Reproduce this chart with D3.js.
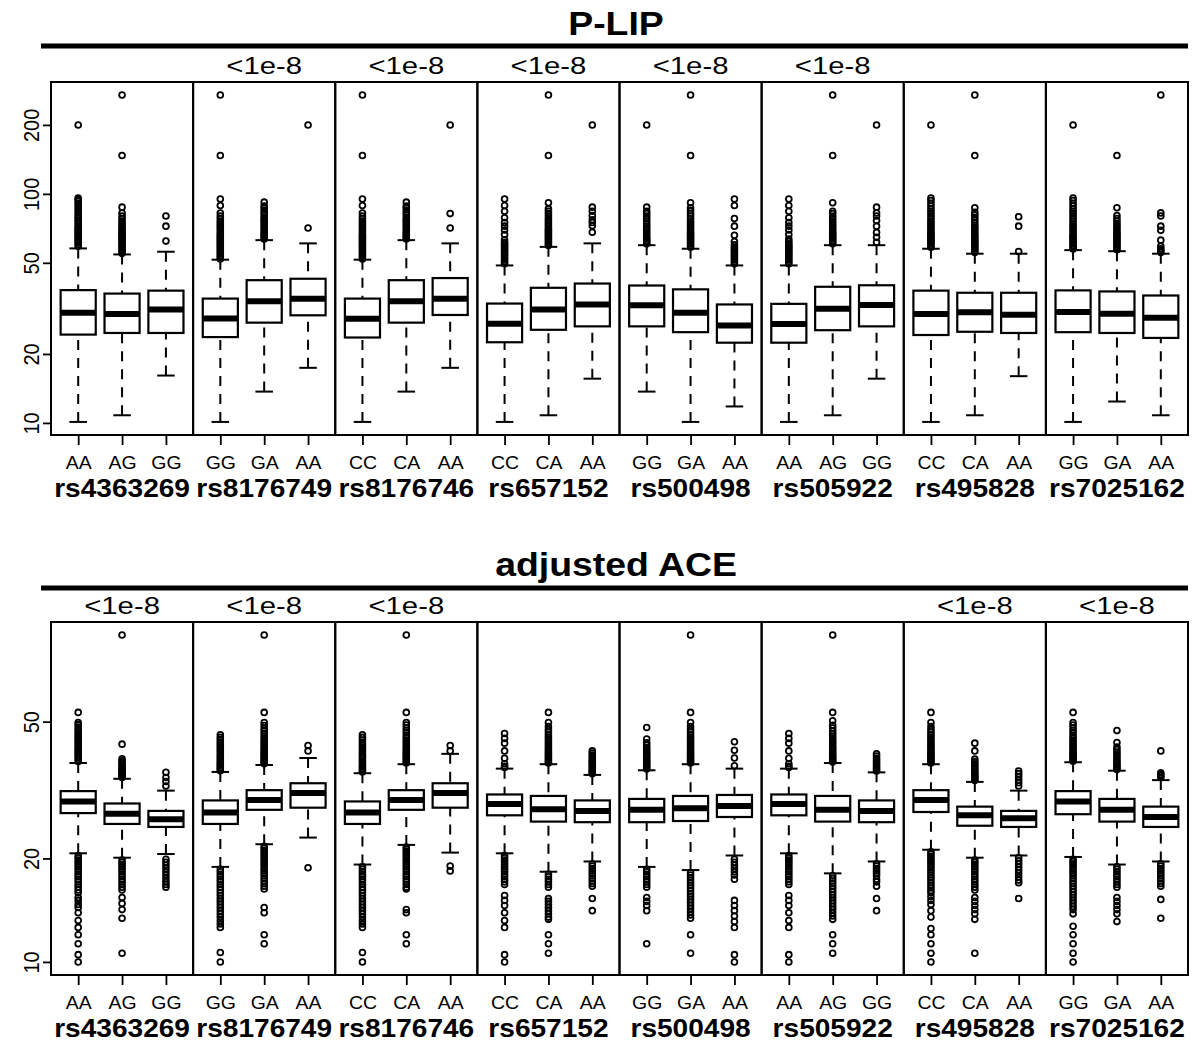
<!DOCTYPE html>
<html>
<head>
<meta charset="utf-8">
<script src="https://cdn.jsdelivr.net/npm/d3@7"></script>
<style>
  body { margin: 0; background: #fff; }
</style>
</head>
<body>
<svg id="chart" width="1192" height="1048"></svg>
<script>
// ---- SNPs and genotype categories ----
const snps = ["rs4363269", "rs8176749", "rs8176746", "rs657152", "rs500498", "rs505922", "rs495828", "rs7025162"];
const genotypes = [
  ["AA", "AG", "GG"], ["GG", "GA", "AA"], ["CC", "CA", "AA"], ["CC", "CA", "AA"],
  ["GG", "GA", "AA"], ["AA", "AG", "GG"], ["CC", "CA", "AA"], ["GG", "GA", "AA"]
];

// ---- association p-values shown above each SNP ----
const plipPvals = ["", "<1e-8", "<1e-8", "<1e-8", "<1e-8", "<1e-8", "", ""];
const acePvals  = ["<1e-8", "<1e-8", "<1e-8", "", "", "", "<1e-8", "<1e-8"];

// ---- axis tick values (log scale) ----
const plipTicks = [10, 20, 50, 100, 200];
const aceTicks  = [10, 20, 50];

// ---- P-LIP box statistics: [lower whisker, Q1, median, Q3, upper whisker] ----
const plipStats = [
  [[10.1, 24.3, 30.3, 38.0, 57.8], [10.8, 24.7, 29.9, 36.7, 54.4], [16.1, 24.7, 31.3, 37.8, 55.9]],
  [[10.1, 23.7, 28.6, 34.9, 51.6], [13.7, 27.4, 34.0, 42.0, 62.8], [17.4, 29.5, 34.8, 42.6, 60.8]],
  [[10.1, 23.6, 28.5, 34.9, 51.6], [13.7, 27.4, 34.0, 42.0, 62.8], [17.4, 29.6, 34.8, 42.9, 60.8]],
  [[10.1, 22.5, 27.1, 33.2, 48.7], [10.8, 25.5, 31.3, 38.9, 58.7], [15.6, 26.4, 32.9, 40.6, 60.8]],
  [[13.7, 26.4, 32.6, 39.8, 59.7], [10.1, 24.9, 30.3, 38.3, 57.6], [11.8, 22.4, 26.6, 32.9, 48.7]],
  [[10.1, 22.4, 27.0, 33.1, 48.7], [10.8, 25.4, 31.5, 39.3, 59.7], [15.6, 26.4, 32.7, 39.9, 59.7]],
  [[10.1, 24.2, 29.9, 37.8, 57.6], [10.8, 25.0, 30.4, 37.0, 54.8], [16.0, 24.7, 29.7, 37.0, 54.8]],
  [[10.1, 24.9, 30.5, 37.9, 56.8], [12.4, 24.7, 30.0, 37.5, 56.2], [10.8, 23.5, 28.8, 36.0, 54.8]]
];

// ---- P-LIP outlying observations ----
const plipOutliers = [
  [
    [59, 60, 61, 62, 63, 64, 65, 66, 67, 68, 69, 70, 71, 72, 73.5, 75, 76.5, 78, 79.5, 81, 83, 85, 87, 89, 91, 93, 94.5, 96, 200],
    [55, 56, 57, 58, 59, 60, 61, 62, 63, 64, 65, 66, 67, 68, 69, 70, 71.5, 73, 74.5, 76, 78, 80, 82.5, 87.5, 147, 270],
    [62.2, 72.3, 80]
  ],
  [
    [52, 53, 54, 55, 56, 57, 58, 59, 60, 61, 62, 63, 64, 65, 66, 67, 68.5, 70, 71.5, 73, 74.5, 76, 78, 80, 82.5, 89, 95, 147, 270],
    [63.5, 64.5, 65.5, 66.5, 67.5, 68.5, 70, 71.5, 73, 74.5, 76, 77.5, 79, 81, 83, 85, 87, 88.5, 92],
    [71, 200]
  ],
  [
    [52, 53, 54, 55, 56, 57, 58, 59, 60, 61, 62, 63, 64, 65, 66, 67, 68.5, 70, 71.5, 73, 74.5, 76, 78, 80, 82.5, 89, 95, 147, 270],
    [63.5, 64.5, 65.5, 66.5, 67.5, 68.5, 70, 71.5, 73, 74.5, 76, 77.5, 79, 81, 83, 85, 87, 88.5, 92],
    [71, 82, 200]
  ],
  [
    [49.5, 50.5, 51.5, 52.5, 53.5, 54.5, 55.5, 56.5, 57.5, 58.5, 59.5, 60.5, 61.5, 63, 66.5, 69.5, 72.3, 75, 78.7, 84, 89, 95],
    [59.5, 60.5, 61.5, 62.5, 63.5, 64.5, 65.5, 66.5, 67.5, 68.5, 69.5, 70.5, 72, 73.5, 75, 76.5, 78, 80, 82, 84, 86, 91.5, 147, 270],
    [68, 72.5, 75, 77, 80.5, 84, 87.5, 200]
  ],
  [
    [60.5, 61.5, 62.5, 63.5, 64.5, 66, 67.5, 69, 70.5, 72.3, 74, 76, 78, 80, 82, 84, 87.5, 200],
    [58.5, 59.5, 60.5, 61.5, 62.5, 63.5, 64.5, 65.5, 66.5, 67.5, 68.5, 70, 71.5, 73, 74.5, 76, 78, 80, 82, 84.5, 87, 91.5, 147, 270],
    [49.5, 50.5, 51.5, 52.5, 53.5, 54.5, 55.5, 56.5, 57.5, 58.5, 60, 62, 66, 72.3, 78, 89, 95]
  ],
  [
    [49.5, 50.5, 51.5, 52.5, 53.5, 54.5, 55.5, 56.5, 57.5, 58.5, 59.5, 60.5, 62, 63.5, 66.5, 69.5, 72.3, 75, 78.7, 84, 89, 95],
    [60.5, 61.5, 62.5, 63.5, 64.5, 65.5, 66.5, 67.5, 68.5, 70, 71.5, 73, 74.5, 76, 78, 80, 82, 84, 91.5, 147, 270],
    [61.5, 64.6, 67.9, 72.3, 76.5, 80, 82.6, 87.5, 200]
  ],
  [
    [58.5, 59.5, 60.5, 61.5, 62.5, 63.5, 64.5, 65.5, 66.5, 67.5, 68.5, 70, 71.5, 73, 74.5, 76, 78, 80, 82, 84, 86, 88.5, 91, 93.5, 96, 200],
    [55.5, 56.5, 57.5, 58.5, 59.5, 60.5, 61.5, 62.5, 63.5, 64.5, 65.5, 67, 68.5, 70, 71.5, 73, 75, 77, 79, 81, 83, 87, 147, 270],
    [56, 72.3, 79.4]
  ],
  [
    [57.5, 58.5, 59.5, 60.5, 61.5, 62.5, 63.5, 64.5, 65.5, 66.5, 68, 69.5, 71, 72.5, 74, 76, 78, 80, 82, 84, 86, 88.5, 91, 93.5, 96, 200],
    [57, 58, 59, 60, 61, 62, 63, 64, 65, 66, 67, 68, 69.5, 71, 72.5, 74, 76, 78, 80.5, 87, 147],
    [55.5, 56.5, 57.5, 59, 62.8, 69.3, 72.3, 80, 82.6, 270]
  ]
];

// ---- adjusted ACE box statistics: [lower whisker, Q1, median, Q3, upper whisker] ----
const aceStats = [
  [[20.7, 27.1, 29.3, 31.4, 37.9], [20.1, 25.2, 27.0, 28.9, 34.1], [20.6, 24.7, 26.0, 27.5, 31.5]],
  [[18.9, 25.2, 27.2, 29.5, 35.7], [22.0, 27.7, 29.6, 31.6, 37.4], [23.0, 28.1, 31.0, 33.1, 39.2]],
  [[19.2, 25.2, 27.2, 29.3, 35.4], [21.9, 27.7, 29.6, 31.6, 37.6], [20.8, 28.1, 31.0, 33.1, 40.3]],
  [[20.7, 26.7, 28.8, 30.7, 36.5], [18.3, 25.6, 27.8, 30.4, 37.6], [19.6, 25.5, 27.5, 29.5, 35.0]],
  [[18.9, 25.5, 27.7, 29.8, 36.1], [18.5, 25.7, 28.0, 30.4, 37.6], [20.4, 26.4, 28.4, 30.6, 36.5]],
  [[20.7, 26.7, 28.8, 30.7, 36.5], [18.1, 25.6, 27.7, 30.4, 37.9], [19.6, 25.5, 27.5, 29.5, 35.6]],
  [[21.2, 27.3, 29.6, 31.6, 37.6], [20.1, 24.9, 26.7, 28.3, 33.4], [20.4, 24.7, 26.2, 27.5, 31.5]],
  [[20.2, 26.9, 29.3, 31.4, 38.1], [19.2, 25.6, 27.7, 29.8, 36.0], [19.6, 24.7, 26.4, 28.3, 33.8]]
];

// ---- adjusted ACE outlying observations ----
const aceOutliers = [
  [
    [38.3, 38.8, 39.3, 39.8, 40.3, 40.8, 41.3, 41.8, 42.4, 43, 43.6, 44.2, 44.8, 45.4, 46, 46.7, 47.4, 48.2, 49, 49.7, 53.2,
     20.4, 20.1, 19.8, 19.5, 19.2, 18.9, 18.6, 18.3, 18.0, 17.7, 17.4, 17.1, 16.8, 16.5, 16.2, 15.9, 15.4, 15.1, 14.7, 14.4, 13.9, 13.2, 12.6, 12.0, 11.3, 10.5, 10.0],
    [34.4, 34.7, 35.0, 35.3, 35.6, 35.9, 36.2, 36.5, 36.8, 37.1, 37.5, 38.0, 38.5, 39.0, 43.0, 89.3,
     19.8, 19.5, 19.2, 18.9, 18.6, 18.3, 18.0, 17.7, 17.4, 17.1, 16.8, 16.5, 16.2, 15.4, 14.8, 14.2, 13.4, 10.6],
    [32.5, 33.5, 34.4, 35.6,
     19.9, 19.5, 19.1, 18.7, 18.3, 17.9, 17.5, 17.1, 16.8, 16.5]
  ],
  [
    [36.0, 36.4, 36.8, 37.2, 37.6, 38.0, 38.5, 39.0, 39.5, 40.0, 40.6, 41.2, 41.8, 42.4, 43.0, 43.6, 44.3, 45.0, 45.8,
     18.6, 18.3, 18.0, 17.7, 17.4, 17.1, 16.8, 16.5, 16.2, 15.9, 15.6, 15.3, 15.0, 14.7, 14.4, 14.1, 13.8, 13.5, 13.2, 12.9, 12.6, 10.65, 10.0],
    [37.7, 38.1, 38.5, 38.9, 39.3, 39.7, 40.1, 40.6, 41.1, 41.6, 42.2, 42.8, 43.4, 44.0, 44.7, 45.4, 46.2, 47.0, 47.8, 48.7, 49.7, 53.2, 89.3,
     21.7, 21.4, 21.1, 20.8, 20.5, 20.2, 19.9, 19.6, 19.3, 19.0, 18.7, 18.4, 18.1, 17.8, 17.5, 17.2, 16.9, 16.6, 16.3, 14.4, 13.9, 12.0, 11.3],
    [41.1, 42.6, 18.8]
  ],
  [
    [35.7, 36.1, 36.5, 36.9, 37.3, 37.8, 38.3, 38.8, 39.3, 39.8, 40.4, 41.0, 41.6, 42.2, 42.8, 43.5, 44.2, 45.0, 45.8,
     18.9, 18.6, 18.3, 18.0, 17.7, 17.4, 17.1, 16.8, 16.5, 16.2, 15.9, 15.6, 15.3, 15.0, 14.7, 14.4, 14.1, 13.8, 13.5, 13.2, 12.9, 12.6, 10.65, 10.0],
    [37.9, 38.3, 38.7, 39.1, 39.5, 39.9, 40.3, 40.8, 41.3, 41.8, 42.4, 43.0, 43.6, 44.2, 44.9, 45.6, 46.4, 47.2, 48.0, 48.9, 49.7, 53.2, 89.3,
     21.6, 21.3, 21.0, 20.7, 20.4, 20.1, 19.8, 19.5, 19.2, 18.9, 18.6, 18.3, 18.0, 17.7, 17.4, 17.1, 16.8, 16.5, 16.3, 14.2, 13.9, 12.0, 11.3],
    [41.1, 42.6, 19.0, 18.4]
  ],
  [
    [36.8, 37.1, 37.7, 39.1, 41.1, 43.3, 44.7, 46.2,
     20.4, 20.1, 19.8, 19.5, 19.2, 18.9, 18.6, 18.3, 18.0, 17.7, 17.4, 17.1, 16.8, 15.6, 15.1, 14.6, 13.9, 13.2, 12.6, 10.5, 10.0],
    [37.9, 38.3, 38.7, 39.1, 39.5, 39.9, 40.4, 40.9, 41.4, 41.9, 42.5, 43.1, 43.7, 44.4, 45.1, 45.8, 46.6, 47.4, 48.4, 49.7, 53.2,
     18.0, 17.7, 17.4, 17.1, 16.8, 16.5, 15.3, 15.0, 14.7, 14.4, 14.1, 13.8, 13.5, 13.3, 12.0, 11.3, 10.6],
    [35.3, 35.6, 35.9, 36.2, 36.6, 37.0, 37.4, 37.8, 38.2, 38.6, 39.0, 39.5, 40.0, 40.5, 41.1,
     19.3, 19.0, 18.7, 18.4, 18.1, 17.8, 17.5, 17.2, 16.9, 16.6, 15.3, 14.1]
  ],
  [
    [36.4, 36.8, 37.2, 37.6, 38.0, 38.4, 38.8, 39.3, 39.8, 40.3, 40.8, 41.4, 42.0, 42.7, 43.4, 44.5, 48.1,
     18.6, 18.3, 18.0, 17.7, 17.4, 17.1, 16.8, 16.5, 15.4, 15.0, 14.6, 14.1, 11.3],
    [37.9, 38.3, 38.7, 39.1, 39.5, 39.9, 40.4, 40.9, 41.4, 41.9, 42.5, 43.1, 43.7, 44.4, 45.1, 45.8, 46.6, 47.4, 48.4, 49.7, 53.2, 89.3,
     18.2, 17.9, 17.6, 17.3, 17.0, 16.7, 16.4, 16.1, 15.8, 15.5, 15.2, 14.9, 14.6, 14.3, 14.0, 13.7, 13.4, 12.0, 10.6],
    [37.2, 39.2, 41.3, 43.7,
     19.9, 19.5, 19.1, 18.7, 18.3, 17.9, 17.4, 15.1, 14.6, 14.1, 13.6, 13.1, 12.6, 10.5, 10.0]
  ],
  [
    [36.8, 37.1, 37.7, 39.1, 41.1, 43.3, 44.7, 46.2,
     20.4, 20.1, 19.8, 19.5, 19.2, 18.9, 18.6, 18.3, 18.0, 17.7, 17.4, 17.1, 16.8, 15.6, 15.1, 14.6, 13.9, 13.2, 12.6, 10.5, 10.0],
    [38.2, 38.6, 39.0, 39.4, 39.8, 40.2, 40.7, 41.2, 41.7, 42.2, 42.8, 43.4, 44.0, 44.7, 45.4, 46.2, 47.0, 47.9, 48.8, 50.3, 53.2, 89.3,
     17.8, 17.5, 17.2, 16.9, 16.6, 16.3, 16.0, 15.7, 15.4, 15.1, 14.8, 14.5, 14.2, 13.9, 13.6, 13.3, 12.0, 11.3, 10.6],
    [35.9, 36.3, 36.7, 37.1, 37.6, 38.1, 38.6, 39.1, 39.7, 40.3,
     19.3, 19.0, 18.7, 18.4, 18.1, 17.8, 17.4, 17.1, 16.6, 15.3, 14.1]
  ],
  [
    [37.9, 38.3, 38.7, 39.1, 39.5, 39.9, 40.4, 40.9, 41.4, 41.9, 42.5, 43.1, 43.7, 44.4, 45.1, 45.8, 46.6, 47.4, 48.4, 49.7, 53.2,
     20.9, 20.6, 20.3, 20.0, 19.7, 19.4, 19.1, 18.8, 18.5, 18.2, 17.9, 17.6, 17.3, 17.0, 16.7, 16.4, 16.1, 15.9, 15.5, 15.1, 14.7, 14.1, 13.5, 12.5, 12.0, 11.3, 10.6, 10.0],
    [33.7, 34.0, 34.3, 34.6, 35.0, 35.4, 35.8, 36.2, 36.7, 37.2, 37.7, 38.2, 38.9, 41.1, 43.3,
     19.8, 19.5, 19.2, 18.9, 18.6, 18.3, 18.0, 17.7, 17.4, 17.1, 16.8, 16.5, 16.2, 15.4, 15.0, 14.6, 14.2, 13.8, 13.3, 10.6],
    [32.5, 33.2, 33.9, 34.6, 35.3, 35.9,
     20.1, 19.7, 19.3, 18.9, 18.5, 18.1, 17.7, 17.3, 17.0, 15.3]
  ],
  [
    [38.4, 38.8, 39.2, 39.6, 40.0, 40.4, 40.9, 41.4, 41.9, 42.4, 43.0, 43.6, 44.2, 44.9, 45.6, 46.4, 47.2, 48.0, 48.9, 49.7, 53.2,
     19.9, 19.6, 19.3, 19.0, 18.7, 18.4, 18.1, 17.8, 17.5, 17.2, 16.9, 16.6, 16.3, 16.0, 15.7, 15.4, 15.1, 14.8, 14.5, 14.2, 13.8, 12.7, 12.0, 11.3, 10.6, 10.0],
    [36.3, 36.7, 37.1, 37.5, 38.0, 38.5, 39.0, 39.6, 40.2, 40.8, 41.5, 42.2, 43.5, 47.1,
     18.9, 18.6, 18.3, 18.0, 17.7, 17.4, 17.1, 16.8, 16.5, 15.4, 15.0, 14.6, 14.2, 13.8, 13.1],
    [34.4, 34.8, 35.1, 35.5, 41.1,
     19.3, 19.0, 18.7, 18.4, 18.1, 17.8, 17.5, 17.2, 16.9, 16.6, 15.2, 13.4]
  ]
];

// ---- drawing ----
const svg = d3.select("#chart");
const FONT = "'Liberation Sans', Arial, Helvetica, sans-serif";
const left = 51, right = 1188;
const nPanels = snps.length;
const pw = (right - left) / nPanels;

// centred text with a slight horizontal stretch
function label(g, x, y, txt, size, weight, sx) {
  return g.append("text")
    .attr("transform", `translate(${x},${y}) scale(${sx},1)`)
    .attr("text-anchor", "middle")
    .style("font-family", FONT)
    .style("font-size", size + "px")
    .style("font-weight", weight || "normal")
    .attr("fill", "#000")
    .text(txt);
}

function section(cfg) {
  const g = svg.append("g");

  label(g, 616, cfg.titleY, cfg.title, 34, "bold", 1.1);
  g.append("line")
    .attr("x1", 41).attr("x2", right)
    .attr("y1", cfg.ruleY).attr("y2", cfg.ruleY)
    .attr("stroke", "#000").attr("stroke-width", 5);

  // shared log scale, range padded by 4% like R's default
  const all = cfg.stats.flat(2).concat(cfg.outliers.flat(2));
  const [lo, hi] = d3.extent(all).map(Math.log10);
  const pad = (hi - lo) * 0.04;
  const y = d3.scaleLog()
    .domain([Math.pow(10, lo - pad), Math.pow(10, hi + pad)])
    .range([cfg.bottom, cfg.top]);

  // y axis
  const yAx = g.append("g")
    .attr("transform", `translate(${left},0)`)
    .call(d3.axisLeft(y).tickValues(cfg.ticks).tickSize(8).tickFormat(d3.format("d")));
  yAx.select(".domain").remove();
  yAx.selectAll(".tick line").attr("stroke", "#000").attr("stroke-width", 1.8);
  yAx.selectAll(".tick text")
    .attr("x", null).attr("dy", null)
    .attr("transform", `translate(-12,0) scale(1.1,1) rotate(-90)`)
    .attr("text-anchor", "middle")
    .attr("fill", "#000")
    .style("font-family", FONT)
    .style("font-size", "20px");

  snps.forEach((snp, p) => {
    const x0 = left + p * pw;
    const x = d3.scaleLinear().domain([0.38, 3.62]).range([x0, x0 + pw]);
    const pg = g.append("g");

    // genotype axis
    const xAx = pg.append("g")
      .attr("transform", `translate(0,${cfg.bottom})`)
      .call(d3.axisBottom(x).tickValues([1, 2, 3]).tickSize(10)
        .tickFormat(d => genotypes[p][d - 1]));
    xAx.select(".domain").remove();
    xAx.selectAll(".tick line").attr("stroke", "#000").attr("stroke-width", 1.8);
    xAx.selectAll(".tick text")
      .attr("y", null).attr("dy", null)
      .attr("transform", `translate(0,34) scale(1.08,1)`)
      .attr("fill", "#000")
      .style("font-family", FONT)
      .style("font-size", "18px");

    label(pg, x(2), cfg.bottom + 62, snp, 26, "bold", 1.08);
    if (cfg.pvals[p]) label(pg, x(2), cfg.top - 8, cfg.pvals[p], 24, "normal", 1.22);

    const hw = x(1.4) - x(1);
    cfg.stats[p].forEach((s, i) => {
      const cx = x(i + 1);
      const [lw, q1, med, q3, uw] = s;
      const bg = pg.append("g");
      // whiskers, drawn from the staple toward the box
      [[lw, q1], [uw, q3]].forEach(([a, b]) => {
        bg.append("line")
          .attr("x1", cx).attr("x2", cx)
          .attr("y1", y(a)).attr("y2", y(b))
          .attr("stroke", "#000").attr("stroke-width", 2)
          .attr("stroke-dasharray", "10,8");
        bg.append("line")
          .attr("x1", cx - hw / 2).attr("x2", cx + hw / 2)
          .attr("y1", y(a)).attr("y2", y(a))
          .attr("stroke", "#000").attr("stroke-width", 2);
      });
      bg.append("rect")
        .attr("x", cx - hw).attr("width", 2 * hw)
        .attr("y", y(q3)).attr("height", y(q1) - y(q3))
        .attr("fill", "#fff").attr("stroke", "#000").attr("stroke-width", 2.2);
      bg.append("line")
        .attr("x1", cx - hw).attr("x2", cx + hw)
        .attr("y1", y(med)).attr("y2", y(med))
        .attr("stroke", "#000").attr("stroke-width", 6);
      bg.selectAll("circle")
        .data(cfg.outliers[p][i])
        .join("circle")
        .attr("cx", cx).attr("cy", d => y(d)).attr("r", 2.9)
        .attr("fill", "none").attr("stroke", "#000").attr("stroke-width", 1.8);
    });

    // panel frame
    pg.append("rect")
      .attr("x", x0).attr("y", cfg.top)
      .attr("width", pw).attr("height", cfg.bottom - cfg.top)
      .attr("fill", "none").attr("stroke", "#000").attr("stroke-width", 2);
  });
}

section({
  title: "P-LIP", titleY: 35, ruleY: 46, top: 82, bottom: 435,
  stats: plipStats, outliers: plipOutliers, ticks: plipTicks, pvals: plipPvals
});
section({
  title: "adjusted ACE", titleY: 576, ruleY: 588, top: 622, bottom: 975,
  stats: aceStats, outliers: aceOutliers, ticks: aceTicks, pvals: acePvals
});
</script>
</body>
</html>
